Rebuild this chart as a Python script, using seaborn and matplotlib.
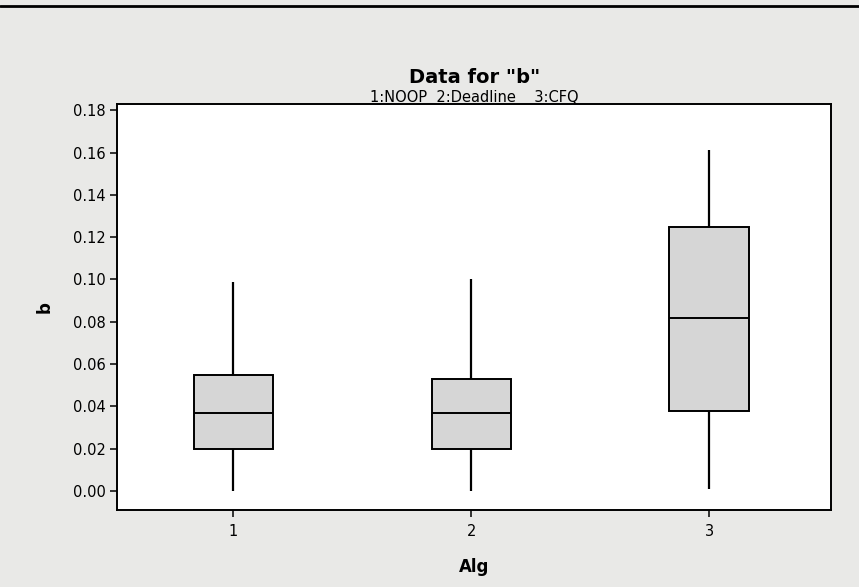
import pandas as pd
import matplotlib.pyplot as plt
import seaborn as sns
from matplotlib.lines import Line2D

# Five-number summaries: min, Q1, median, Q3, max
alg_labels = ["1", "2", "3"]
noop_b = [0.000, 0.020, 0.037, 0.055, 0.099]
deadline_b = [0.000, 0.020, 0.037, 0.053, 0.100]
cfq_b = [0.001, 0.038, 0.082, 0.125, 0.161]
y_ticks = [0.00, 0.02, 0.04, 0.06, 0.08, 0.10, 0.12, 0.14, 0.16, 0.18]


def main():
    df = pd.DataFrame({
        "Alg": [alg_labels[0]] * len(noop_b) + [alg_labels[1]] * len(deadline_b) + [alg_labels[2]] * len(cfq_b),
        "b": noop_b + deadline_b + cfq_b,
    })

    sns.set_style("white")
    plt.rcParams["font.family"] = ["DejaVu Sans"]
    plt.rcParams["text.color"] = "black"
    plt.rcParams["axes.labelcolor"] = "black"
    plt.rcParams["xtick.color"] = "black"
    plt.rcParams["ytick.color"] = "black"

    bg = "#e9e9e7"
    fig = plt.figure(figsize=(8.59, 5.87), dpi=100, facecolor=bg)
    ax = fig.add_axes([0.136, 0.131, 0.831, 0.692])

    # with 5 points, linear quartiles fall exactly on the 2nd/3rd/4th value
    sns.boxplot(data=df, x="Alg", y="b", order=alg_labels, ax=ax,
                whis=(0, 100), width=0.335, color="#d6d6d6", saturation=1,
                linecolor="black", linewidth=1.4, showcaps=False,
                medianprops={"color": "black", "linewidth": 1.4},
                whiskerprops={"color": "black", "linewidth": 1.6})

    ax.set_xlim(-0.49, 2.51)
    ax.set_ylim(-0.009, 0.183)
    ax.set_yticks(y_ticks)
    ax.set_yticklabels([f"{t:.2f}" for t in y_ticks])

    for s in ax.spines.values():
        s.set_visible(True)
        s.set_color("black")
        s.set_linewidth(1.4)

    ax.tick_params(axis="both", which="both", direction="out", length=5, width=1.1,
                   color="black", labelcolor="black", labelsize=10.5, left=True, bottom=True, pad=3)
    ax.tick_params(axis="x", pad=5)
    ax.set_xlabel("Alg", fontsize=12, fontweight="bold", labelpad=14, color="black")
    ax.set_ylabel("b", fontsize=12, fontweight="bold", labelpad=14, color="black")

    fig.text(0.552, 0.868, 'Data for "b"', ha="center", va="center", fontsize=14,
             fontweight="bold", color="black")
    fig.text(0.552, 0.834, "1:NOOP  2:Deadline    3:CFQ", ha="center", va="center",
             fontsize=10.5, color="black")

    # page border from the scan
    fig.add_artist(Line2D([0, 1], [0.99, 0.99], transform=fig.transFigure, color="black", linewidth=2))

    fig.savefig("out.png", dpi=100, facecolor=bg)
    plt.close(fig)


if __name__ == "__main__":
    main()
